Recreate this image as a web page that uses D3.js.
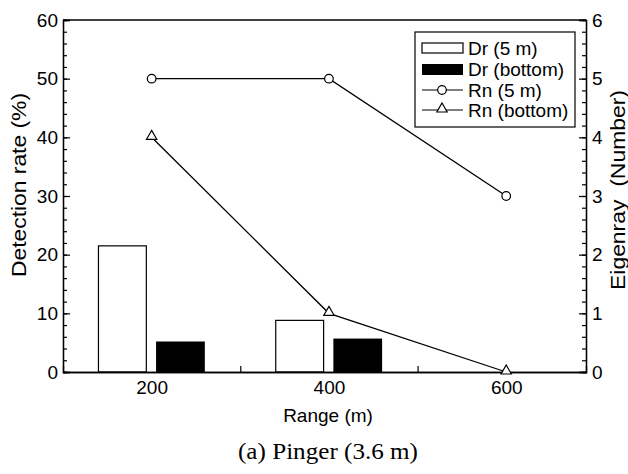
<!DOCTYPE html>
<html>
<head>
<meta charset="utf-8">
<script src="https://cdn.jsdelivr.net/npm/d3@7"></script>
<style>
body { margin: 0; background: #fff; }
svg { display: block; }
</style>
</head>
<body>
<script>
//data

var ranges = [200, 400, 600]; //ranges of the eigenray points (m)
var barRanges = [200, 400]; //ranges with detection bars (m)
var dr5m = [21.5, 8.8]; //detection rate, 5 m (%)
var drBottom = [5.2, 5.7]; //detection rate, bottom (%)
var rn5m = [5, 5, 3]; //eigenrays, 5 m
var rnBottom = [4, 1, 0]; //eigenrays, bottom

var xTickVals = [200, 400, 600]; //labelled range ticks
var xMinorVals = [300, 500]; //small range ticks
var leftTickVals = [0, 10, 20, 30, 40, 50, 60];
var rightTickVals = [0, 1, 2, 3, 4, 5, 6];

var legendLabels = ["Dr (5 m)", "Dr (bottom)", "Rn (5 m)", "Rn (bottom)"];

//drawing vars

var w = 628;
var h = 474;
var boxL = 63, boxR = 586, boxT = 20, boxB = 372; //plot box (window.top is taken, so no "top")
var fontFam = "'Liberation Sans', Arial, sans-serif";

var x = d3.scaleLinear().domain([100, 690]).range([boxL, boxR]);
var yL = d3.scaleLinear().domain([0, 60]).range([boxB, boxT]);
var yR = d3.scaleLinear().domain([0, 6]).range([boxB, boxT]);

var svg = d3.select("body")
	.append("svg")
	.attr("width", w)
	.attr("height", h);

//bars

svg.selectAll("rect.dr5")
	.data(barRanges)
	.enter()
	.append("rect")
	.attr("class", "dr5")
	.attr("x", function(d){ return x(d - 60); })
	.attr("width", function(d){ return x(d - 6) - x(d - 60); })
	.attr("y", function(d, i){ return yL(dr5m[i]); })
	.attr("height", function(d, i){ return yL(0) - yL(dr5m[i]); })
	.attr("fill", "#fff")
	.attr("stroke", "#000")
	.attr("stroke-width", 1.2);

svg.selectAll("rect.drb")
	.data(barRanges)
	.enter()
	.append("rect")
	.attr("class", "drb")
	.attr("x", function(d){ return x(d + 5); })
	.attr("width", function(d){ return x(d + 60) - x(d + 5); })
	.attr("y", function(d, i){ return yL(drBottom[i]); })
	.attr("height", function(d, i){ return yL(0) - yL(drBottom[i]); })
	.attr("fill", "#000");

//axes

function styleAxis(g) { //plain black axes with big labels
	g.attr("font-size", null).attr("font-family", null);
	g.select(".domain").attr("stroke", "#000").attr("stroke-width", 1.3);
	g.selectAll(".tick line").attr("stroke", "#000").attr("stroke-width", 1.2);
	g.selectAll("text").attr("font-size", "19px").attr("font-family", fontFam).attr("fill", "#000");
}

svg.append("g") //left minor ticks
	.attr("transform", "translate(" + boxL + ",0)")
	.call(d3.axisLeft(yL).tickValues(d3.range(0, 61, 2)).tickSize(-4).tickFormat(""))
	.call(styleAxis);

svg.append("g") //left major ticks
	.attr("transform", "translate(" + boxL + ",0)")
	.call(d3.axisLeft(yL).tickValues(leftTickVals).tickSize(-7).tickPadding(5).tickFormat(d3.format("d")))
	.call(styleAxis);

svg.append("g") //right minor ticks
	.attr("transform", "translate(" + boxR + ",0)")
	.call(d3.axisRight(yR).tickValues(d3.range(0, 31).map(function(d){ return d / 5; })).tickSize(-4).tickFormat(""))
	.call(styleAxis);

svg.append("g") //right major ticks
	.attr("transform", "translate(" + boxR + ",0)")
	.call(d3.axisRight(yR).tickValues(rightTickVals).tickSize(-7).tickPadding(6).tickFormat(d3.format("d")))
	.call(styleAxis);

svg.append("g") //bottom labels
	.attr("transform", "translate(0," + boxB + ")")
	.call(d3.axisBottom(x).tickValues(xTickVals).tickSize(0).tickPadding(9).tickFormat(d3.format("d")))
	.call(styleAxis);

svg.append("g") //bottom minor ticks
	.attr("transform", "translate(0," + boxB + ")")
	.call(d3.axisBottom(x).tickValues(xMinorVals).tickSize(-6).tickFormat(""))
	.call(styleAxis);

svg.append("line") //top of the frame
	.attr("x1", boxL).attr("x2", boxR)
	.attr("y1", boxT).attr("y2", boxT)
	.attr("stroke", "#000")
	.attr("stroke-width", 1.3);

//lines

var rnLine = d3.line()
	.x(function(d, i){ return x(ranges[i]); })
	.y(function(d){ return yR(d); });

svg.append("path")
	.datum(rn5m)
	.attr("d", rnLine)
	.attr("fill", "none")
	.attr("stroke", "#000")
	.attr("stroke-width", 1.3);

svg.append("path")
	.datum(rnBottom)
	.attr("d", rnLine)
	.attr("fill", "none")
	.attr("stroke", "#000")
	.attr("stroke-width", 1.3);

svg.selectAll("circle.rn5")
	.data(rn5m)
	.enter()
	.append("circle")
	.attr("class", "rn5")
	.attr("cx", function(d, i){ return x(ranges[i]); })
	.attr("cy", function(d){ return yR(d); })
	.attr("r", 4.3)
	.attr("fill", "#fff")
	.attr("stroke", "#000")
	.attr("stroke-width", 1.2);

var tri = d3.symbol().type(d3.symbolTriangle).size(46);

svg.selectAll("path.rnb")
	.data(rnBottom)
	.enter()
	.append("path")
	.attr("class", "rnb")
	.attr("d", tri)
	.attr("transform", function(d, i){ return "translate(" + x(ranges[i]) + "," + (yR(d) - 1) + ")"; })
	.attr("fill", "#fff")
	.attr("stroke", "#000")
	.attr("stroke-width", 1.2);

//legend

var lg = svg.append("g");

lg.append("rect")
	.attr("x", 415).attr("y", 32)
	.attr("width", 160).attr("height", 95)
	.attr("fill", "#fff")
	.attr("stroke", "#000")
	.attr("stroke-width", 1.2);

var rowY = [48, 69, 90, 110]; //legend rows

lg.append("rect").attr("x", 422).attr("y", rowY[0] - 5).attr("width", 41).attr("height", 10)
	.attr("fill", "#fff").attr("stroke", "#000").attr("stroke-width", 1.2);
lg.append("rect").attr("x", 422).attr("y", rowY[1] - 5).attr("width", 41).attr("height", 11)
	.attr("fill", "#000");

[2, 3].forEach(function(r){ //line samples
	lg.append("line")
		.attr("x1", 422).attr("x2", 463)
		.attr("y1", rowY[r]).attr("y2", rowY[r])
		.attr("stroke", "#000").attr("stroke-width", 1.2);
});

lg.append("circle").attr("cx", 442).attr("cy", rowY[2]).attr("r", 4.3)
	.attr("fill", "#fff").attr("stroke", "#000").attr("stroke-width", 1.2);
lg.append("path").attr("d", tri).attr("transform", "translate(442," + (rowY[3] - 1) + ")")
	.attr("fill", "#fff").attr("stroke", "#000").attr("stroke-width", 1.2);

lg.selectAll("text")
	.data(legendLabels)
	.enter()
	.append("text")
	.text(function(d){ return d; })
	.attr("x", 468)
	.attr("y", function(d, i){ return rowY[i] + 6.5; })
	.attr("font-size", "19px")
	.attr("font-family", fontFam);

//axis titles

svg.append("text")
	.text("Detection rate (%)")
	.attr("transform", "translate(26,185) rotate(-90)")
	.attr("text-anchor", "middle")
	.attr("textLength", 184)
	.attr("lengthAdjust", "spacingAndGlyphs")
	.attr("font-size", "20px")
	.attr("font-family", fontFam);

svg.append("text")
	.text("Eigenray  (Number)")
	.attr("transform", "translate(610,190) rotate(-90)")
	.attr("text-anchor", "middle")
	.attr("textLength", 200)
	.attr("lengthAdjust", "spacingAndGlyphs")
	.attr("dy", "0.75em")
	.attr("font-size", "20px")
	.attr("font-family", fontFam)
	.style("white-space", "pre");

svg.append("text")
	.text("Range (m)")
	.attr("x", 328)
	.attr("y", 422)
	.attr("text-anchor", "middle")
	.attr("font-size", "19px")
	.attr("font-family", fontFam);

svg.append("text") //caption under the chart
	.text("(a) Pinger (3.6 m)")
	.attr("x", 328)
	.attr("y", 459)
	.attr("text-anchor", "middle")
	.attr("textLength", 180)
	.attr("lengthAdjust", "spacingAndGlyphs")
	.attr("font-size", "23px")
	.attr("font-family", "'Liberation Serif', 'Times New Roman', serif");
</script>
</body>
</html>
